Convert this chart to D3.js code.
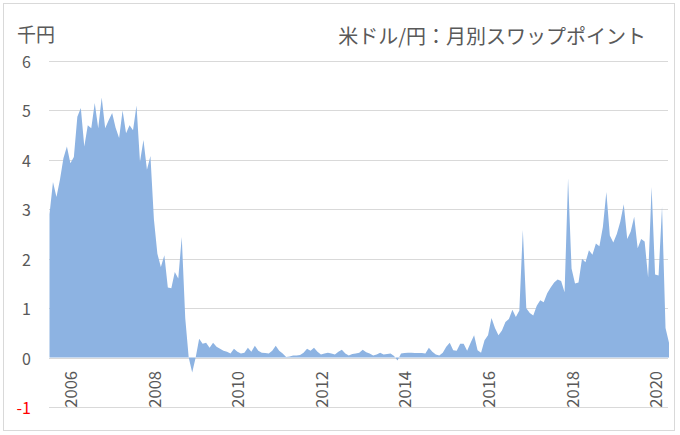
<!DOCTYPE html>
<html><head><meta charset="utf-8">
<script src="https://cdn.jsdelivr.net/npm/d3@7"></script>
<style>body{margin:0;background:#fff} svg{display:block}</style>
</head><body><svg id="c" width="680" height="435"></svg>
<script>
// Monthly USD/JPY swap points (thousand yen), Jul 2005 – May 2020
const startYear = 2005, startMonth = 7;
const swapValues = [
  2.9, 3.55, 3.25, 3.6, 4.03, 4.27, 3.93, 4.06, 4.87, 5.05,
  4.27, 4.7, 4.64, 5.15, 4.64, 5.26, 4.64, 4.8, 4.95, 4.65,
  4.44, 5.0, 4.54, 4.7, 4.6, 5.1, 3.96, 4.4, 3.8, 4.08,
  2.8, 2.1, 1.83, 2.07, 1.42, 1.4, 1.73, 1.6, 2.44, 0.8,
  0.0, -0.3, 0.0, 0.38, 0.28, 0.3, 0.2, 0.3, 0.22, 0.18,
  0.14, 0.12, 0.08, 0.18, 0.12, 0.08, 0.1, 0.2, 0.12, 0.24,
  0.14, 0.1, 0.09, 0.08, 0.14, 0.24, 0.14, 0.08, 0.01, 0.02,
  0.04, 0.04, 0.05, 0.1, 0.18, 0.14, 0.2, 0.12, 0.06, 0.08,
  0.1, 0.08, 0.06, 0.12, 0.16, 0.08, 0.04, 0.07, 0.08, 0.1,
  0.16, 0.11, 0.08, 0.04, 0.06, 0.1, 0.06, 0.07, 0.08, 0.03,
  -0.06, 0.08, 0.09, 0.1, 0.1, 0.09, 0.09, 0.09, 0.08, 0.2,
  0.12, 0.06, 0.04, 0.1, 0.22, 0.3, 0.15, 0.14, 0.28, 0.28,
  0.14, 0.3, 0.45, 0.15, 0.1, 0.35, 0.45, 0.8, 0.6, 0.45,
  0.55, 0.72, 0.78, 0.97, 0.82, 0.95, 2.58, 1.0, 0.9, 0.85,
  1.05, 1.16, 1.12, 1.3, 1.42, 1.52, 1.58, 1.55, 1.32, 3.63,
  1.8, 1.5, 1.52, 2.0, 1.93, 2.17, 2.08, 2.31, 2.25, 2.64,
  3.35, 2.47, 2.33, 2.5, 2.75, 3.1, 2.4, 2.55, 2.85, 2.21,
  2.4, 2.35, 1.62, 3.45, 1.68, 1.66, 3.05, 0.6, 0.3
];
const tickYears = [2006, 2008, 2010, 2012, 2014, 2016, 2018, 2020];
const yTicks = [-1, 0, 1, 2, 3, 4, 5, 6];
const titleText = "米ドル/円：月別スワップポイント";
const unitText = "千円";

const svg = d3.select("#c");
const font = "'Noto Sans CJK JP','Noto Sans',sans-serif";
const textColor = "#595959";

// outer frame
svg.append("rect").attr("x", 3.5).attr("y", 3.5).attr("width", 671).attr("height", 427)
  .attr("fill", "#fff").attr("stroke", "#d9d9d9").attr("stroke-width", 1);

const x = d3.scaleLinear().domain([0, swapValues.length - 1]).range([49.5, 669]);
const y = d3.scaleLinear().domain([-1, 6]).range([407, 61]);

// gridlines
svg.append("g").selectAll("line").data(yTicks).join("line")
  .attr("x1", 49).attr("x2", 668)
  .attr("y1", d => Math.round(y(d)) + 0.5).attr("y2", d => Math.round(y(d)) + 0.5)
  .attr("stroke", "#d9d9d9").attr("stroke-width", 1);

// y labels
svg.append("g").selectAll("text").data(yTicks).join("text")
  .attr("x", 31).attr("y", d => y(d))
  .attr("text-anchor", "end").attr("dominant-baseline", "central")
  .attr("font-family", font).attr("font-size", 16)
  .attr("fill", d => d < 0 ? "#ff0000" : textColor)
  .text(d => d);

// area
const area = d3.area()
  .x((d, i) => x(i))
  .y0(y(0))
  .y1(d => y(d));
svg.append("path").datum(swapValues).attr("d", area).attr("fill", "#8db3e2");

// x labels (January of each even year)
const tickIdx = tickYears.map(yr => (yr - startYear) * 12 + (1 - startMonth));
svg.append("g").selectAll("text").data(tickYears).join("text")
  .attr("transform", (d, i) => `translate(${x(tickIdx[i])},371) rotate(-90)`)
  .attr("text-anchor", "end").attr("dominant-baseline", "central")
  .attr("font-family", font).attr("font-size", 16.5)
  .attr("fill", textColor)
  .text(d => d);

// unit label
svg.append("text").attr("x", 17).attr("y", 33)
  .attr("dominant-baseline", "central")
  .attr("font-family", font).attr("font-size", 19)
  .attr("fill", textColor).text(unitText);

// title
svg.append("text").attr("x", 646).attr("y", 35)
  .attr("text-anchor", "end").attr("dominant-baseline", "central")
  .attr("font-family", font).attr("font-size", 20)
  .attr("fill", textColor).text(titleText);
</script>
</body></html>
